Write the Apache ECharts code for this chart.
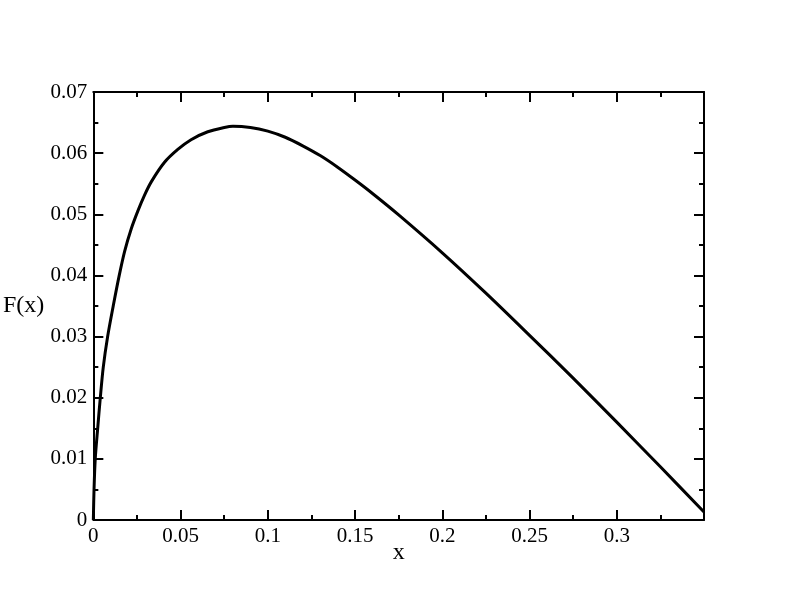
<!DOCTYPE html>
<html>
<head>
<meta charset="utf-8">
<script src="https://cdn.jsdelivr.net/npm/echarts@6/dist/echarts.min.js"></script>
<style>html,body{margin:0;padding:0;background:#fff}#c{width:792px;height:612px}</style>
</head>
<body>
<div id="c"></div>
<script>
var xValues = [0, 0.0004, 0.0011, 0.0025, 0.004, 0.0057, 0.0082, 0.0114, 0.0147, 0.0179, 0.0217, 0.0256, 0.0293, 0.0332, 0.0408, 0.0484, 0.056, 0.0656, 0.0751, 0.08, 0.09, 0.1, 0.11, 0.12, 0.13, 0.14, 0.15, 0.16, 0.175, 0.2, 0.225, 0.25, 0.275, 0.3, 0.325, 0.35];
var fValues = [0, 0.005, 0.010, 0.015, 0.020, 0.025, 0.030, 0.035, 0.0398, 0.0439, 0.0476, 0.0506, 0.0531, 0.0553, 0.0585, 0.0606, 0.0622, 0.0635, 0.0642, 0.0644, 0.0642, 0.0636, 0.0626, 0.0612, 0.0596, 0.0577, 0.0556, 0.0534, 0.0499, 0.0437, 0.0371, 0.0302, 0.0232, 0.0160, 0.0087, 0.0013];
var xTitle = 'x';
var yTitle = 'F(x)';

var font = 'Liberation Serif';
var data = xValues.map(function (x, i) { return [x, fValues[i]]; });
var lineStyle = { color: '#000', width: 2 };
function xAxisCfg(pos, labels) {
  return {
    type: 'value', position: pos, min: 0, max: 0.35, interval: 0.05,
    name: labels ? xTitle : '', nameLocation: 'middle', nameGap: 21, nameMoveOverlap: false,
    nameTextStyle: { fontFamily: font, fontSize: 24, color: '#000' },
    axisLine: { show: true, onZero: false, lineStyle: lineStyle },
    axisTick: { show: true, inside: true, length: 10, lineStyle: lineStyle },
    minorTick: { show: true, splitNumber: 2, length: 5, lineStyle: lineStyle },
    splitLine: { show: false },
    axisLabel: { show: labels, showMaxLabel: false, margin: 6, fontFamily: font, fontSize: 21, color: '#000',
      formatter: function (v) { return String(+v.toFixed(3)); } }
  };
}
function yAxisCfg(pos, labels) {
  return {
    type: 'value', position: pos, min: 0, max: 0.07, interval: 0.01,
    name: labels ? yTitle : '', nameLocation: 'middle', nameGap: 49, nameRotate: 0, nameMoveOverlap: false,
    nameTextStyle: { fontFamily: font, fontSize: 24, color: '#000' },
    axisLine: { show: true, onZero: false, lineStyle: lineStyle },
    axisTick: { show: true, inside: true, length: 10, lineStyle: lineStyle },
    minorTick: { show: true, splitNumber: 2, length: 5, lineStyle: lineStyle },
    splitLine: { show: false },
    axisLabel: { show: labels, margin: 6, fontFamily: font, fontSize: 21, color: '#000',
      formatter: function (v) { return String(+v.toFixed(3)); } }
  };
}
var chart = echarts.init(document.getElementById('c'));
chart.setOption({
  animation: false,
  backgroundColor: '#fff',
  grid: { left: 92, right: 88, top: 92, bottom: 92 },
  xAxis: [xAxisCfg('bottom', true), xAxisCfg('top', false)],
  yAxis: [yAxisCfg('left', true), yAxisCfg('right', false)],
  series: [{
    type: 'line', xAxisIndex: 0, yAxisIndex: 0, data: data,
    showSymbol: false, smooth: 0.3,
    lineStyle: { color: '#000', width: 3 }
  }]
});
</script>
</body>
</html>
